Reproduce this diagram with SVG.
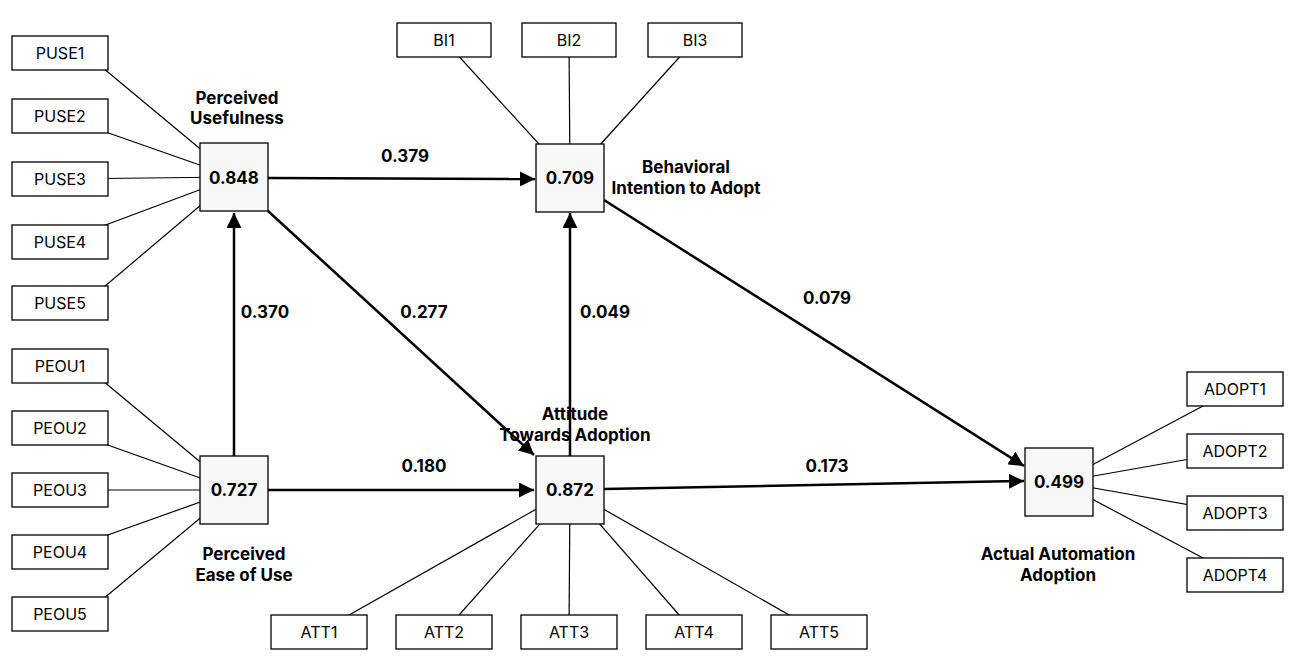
<svg xmlns="http://www.w3.org/2000/svg" width="1299" height="670" viewBox="0 0 1299 670">
<style>
.i{fill:#fff;stroke:#000;stroke-width:1.3}
.c{fill:#f7f7f7;stroke:#000;stroke-width:1.3}
.t{font-family:Inter,"Liberation Sans",sans-serif;font-size:16px;text-anchor:middle;dominant-baseline:central}
.b{font-family:Inter,"Liberation Sans",sans-serif;font-size:17px;font-weight:bold;text-anchor:middle}
.l{stroke:#000;stroke-width:1.2}
.p{stroke:#000;stroke-width:2.5;marker-end:url(#a)}
</style>
<defs><marker id="a" viewBox="0 0 10 10" refX="10" refY="5" markerWidth="6" markerHeight="6" orient="auto" markerUnits="strokeWidth"><path d="M0,0L10,5L0,10z"/></marker></defs>
<rect width="1299" height="670" fill="#fff"/>
<g id="connectors">
<line class="l" x1="85" y1="53" x2="234" y2="177"/>
<line class="l" x1="60" y1="116" x2="234" y2="177"/>
<line class="l" x1="60" y1="179" x2="234" y2="177"/>
<line class="l" x1="60" y1="242" x2="234" y2="177"/>
<line class="l" x1="85" y1="303" x2="234" y2="177"/>
<line class="l" x1="85" y1="366" x2="234" y2="490"/>
<line class="l" x1="60" y1="428" x2="234" y2="490"/>
<line class="l" x1="60" y1="490" x2="234" y2="490"/>
<line class="l" x1="60" y1="552" x2="234" y2="490"/>
<line class="l" x1="85" y1="614" x2="234" y2="490"/>
<line class="l" x1="444" y1="40" x2="570" y2="178"/>
<line class="l" x1="569" y1="40" x2="570" y2="178"/>
<line class="l" x1="695" y1="40" x2="570" y2="178"/>
<line class="l" x1="319" y1="632" x2="570" y2="490"/>
<line class="l" x1="444" y1="632" x2="570" y2="490"/>
<line class="l" x1="569" y1="632" x2="570" y2="490"/>
<line class="l" x1="694" y1="632" x2="570" y2="490"/>
<line class="l" x1="819" y1="632" x2="570" y2="490"/>
<line class="l" x1="1235" y1="389" x2="1060" y2="482"/>
<line class="l" x1="1235" y1="451" x2="1060" y2="482"/>
<line class="l" x1="1235" y1="513" x2="1060" y2="482"/>
<line class="l" x1="1235" y1="575" x2="1060" y2="482"/>
<line class="p" x1="268" y1="178" x2="535" y2="179"/>
<line class="p" x1="234" y1="456" x2="234" y2="213"/>
<line class="p" x1="268" y1="211" x2="534" y2="455"/>
<line class="p" x1="268" y1="490" x2="534" y2="490"/>
<line class="p" x1="570" y1="456" x2="570" y2="213"/>
<line class="p" x1="604" y1="200" x2="1024" y2="466"/>
<line class="p" x1="604" y1="489" x2="1024" y2="481"/>
</g>
<g id="labels" class="b">
<text x="405" y="162">0.379</text>
<text x="265" y="318">0.370</text>
<text x="424" y="318">0.277</text>
<text x="605" y="318">0.049</text>
<text x="827" y="304">0.079</text>
<text x="424" y="472">0.180</text>
<text x="827" y="472">0.173</text>
</g>
<g id="PUSE1"><rect class="i" x="12" y="36" width="96" height="34"/><text class="t" x="60" y="53">PUSE1</text></g>
<g id="PUSE2"><rect class="i" x="12" y="99" width="96" height="34"/><text class="t" x="60" y="116">PUSE2</text></g>
<g id="PUSE3"><rect class="i" x="12" y="162" width="96" height="34"/><text class="t" x="60" y="179">PUSE3</text></g>
<g id="PUSE4"><rect class="i" x="12" y="225" width="96" height="34"/><text class="t" x="60" y="242">PUSE4</text></g>
<g id="PUSE5"><rect class="i" x="12" y="286" width="96" height="34"/><text class="t" x="60" y="303">PUSE5</text></g>
<g id="PEOU1"><rect class="i" x="12" y="349" width="96" height="34"/><text class="t" x="60" y="366">PEOU1</text></g>
<g id="PEOU2"><rect class="i" x="12" y="411" width="96" height="34"/><text class="t" x="60" y="428">PEOU2</text></g>
<g id="PEOU3"><rect class="i" x="12" y="473" width="96" height="34"/><text class="t" x="60" y="490">PEOU3</text></g>
<g id="PEOU4"><rect class="i" x="12" y="535" width="96" height="34"/><text class="t" x="60" y="552">PEOU4</text></g>
<g id="PEOU5"><rect class="i" x="12" y="597" width="96" height="34"/><text class="t" x="60" y="614">PEOU5</text></g>
<g id="BI1"><rect class="i" x="397" y="23" width="94" height="34"/><text class="t" x="444" y="40">BI1</text></g>
<g id="BI2"><rect class="i" x="522" y="23" width="94" height="34"/><text class="t" x="569" y="40">BI2</text></g>
<g id="BI3"><rect class="i" x="648" y="23" width="94" height="34"/><text class="t" x="695" y="40">BI3</text></g>
<g id="ATT1"><rect class="i" x="271" y="615" width="96" height="34"/><text class="t" x="319" y="632">ATT1</text></g>
<g id="ATT2"><rect class="i" x="396" y="615" width="96" height="34"/><text class="t" x="444" y="632">ATT2</text></g>
<g id="ATT3"><rect class="i" x="521" y="615" width="96" height="34"/><text class="t" x="569" y="632">ATT3</text></g>
<g id="ATT4"><rect class="i" x="646" y="615" width="96" height="34"/><text class="t" x="694" y="632">ATT4</text></g>
<g id="ATT5"><rect class="i" x="771" y="615" width="96" height="34"/><text class="t" x="819" y="632">ATT5</text></g>
<g id="ADOPT1"><rect class="i" x="1187" y="372" width="96" height="34"/><text class="t" x="1235" y="389">ADOPT1</text></g>
<g id="ADOPT2"><rect class="i" x="1187" y="434" width="96" height="34"/><text class="t" x="1235" y="451">ADOPT2</text></g>
<g id="ADOPT3"><rect class="i" x="1187" y="496" width="96" height="34"/><text class="t" x="1235" y="513">ADOPT3</text></g>
<g id="ADOPT4"><rect class="i" x="1187" y="558" width="96" height="34"/><text class="t" x="1235" y="575">ADOPT4</text></g>
<g id="PU"><rect class="c" x="200" y="143" width="68" height="68"/><text class="b" x="234" y="184">0.848</text><text class="b" x="237" y="104">Perceived</text><text class="b" x="237" y="124">Usefulness</text></g>
<g id="PEOU"><rect class="c" x="200" y="456" width="68" height="68"/><text class="b" x="234" y="496">0.727</text><text class="b" x="244" y="560">Perceived</text><text class="b" x="244" y="581">Ease of Use</text></g>
<g id="BI"><rect class="c" x="536" y="144" width="68" height="68"/><text class="b" x="570" y="184">0.709</text><text class="b" x="686" y="173">Behavioral</text><text class="b" x="686" y="194">Intention to Adopt</text></g>
<g id="ATT"><rect class="c" x="536" y="456" width="68" height="68"/><text class="b" x="570" y="496">0.872</text><text class="b" x="575" y="420">Attitude</text><text class="b" x="575" y="441">Towards Adoption</text></g>
<g id="ADOPT"><rect class="c" x="1025" y="448" width="68" height="68"/><text class="b" x="1059" y="488">0.499</text><text class="b" x="1058" y="560">Actual Automation</text><text class="b" x="1058" y="581">Adoption</text></g>
</svg>
